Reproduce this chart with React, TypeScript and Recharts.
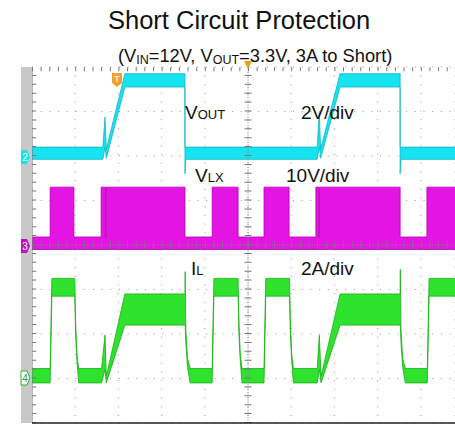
import {
  ComposedChart,
  Area,
  XAxis,
  YAxis,
  CartesianGrid,
  ReferenceLine,
} from "recharts";

// each row: [time (div), low edge, high edge] in volts or amps
const voutTrace: [number, number, number][] = [
  [0, -0.15, 0.4],
  [1.64, -0.15, 0.4],
  [1.69, 0.4, 1.75],
  [1.72, -0.1, 0.3],
  [2.15, 3.1, 3.7],
  [3.54, 3.1, 3.7],
  [3.54, -0.8, 0.4],
  [3.56, -0.15, 0.4],
  [6.6, -0.15, 0.4],
  [6.65, 0.4, 1.95],
  [6.68, -0.1, 0.3],
  [7.13, 3.1, 3.7],
  [8.52, 3.1, 3.7],
  [8.52, -0.8, 0.4],
  [8.54, -0.15, 0.4],
  [9.79, -0.15, 0.4],
];

const vlxTrace: [number, number, number][] = [
  [0, -1, 1.8],
  [0.42, -1, 1.8],
  [0.42, -1, 13],
  [0.97, -1, 13],
  [0.97, -1, 1.8],
  [1.6, -1, 1.8],
  [1.6, -1, 13],
  [1.7, -1, 13],
  [1.7, -1, 1.8],
  [1.715, -1, 1.8],
  [1.715, -1, 13],
  [3.54, -1, 13],
  [3.54, -1, 1.8],
  [4.17, -1, 1.8],
  [4.17, -1, 13],
  [4.77, -1, 13],
  [4.77, -1, 1.8],
  [5.37, -1, 1.8],
  [5.37, -1, 13],
  [5.95, -1, 13],
  [5.95, -1, 1.8],
  [6.57, -1, 1.8],
  [6.57, -1, 13],
  [6.64, -1, 13],
  [6.64, -1, 1.8],
  [6.655, -1, 1.8],
  [6.655, -1, 13],
  [8.52, -1, 13],
  [8.52, -1, 1.8],
  [9.14, -1, 1.8],
  [9.14, -1, 13],
  [9.79, -1, 13],
];

const ilTrace: [number, number, number][] = [
  [0, -0.2, 0.45],
  [0.42, -0.2, 0.45],
  [0.46, 3.7, 4.5],
  [0.99, 3.7, 4.5],
  [1.01, 2.0, 2.5],
  [1.04, 0.8, 1.1],
  [1.08, -0.2, 0.45],
  [1.61, -0.2, 0.45],
  [1.69, 0.4, 1.95],
  [1.72, -0.2, 0.1],
  [2.15, 2.4, 3.8],
  [3.54, 2.4, 3.8],
  [3.545, 2.4, 4.8],
  [3.56, 1.6, 2.2],
  [3.6, 0.5, 0.9],
  [3.66, -0.2, 0.45],
  [4.17, -0.2, 0.45],
  [4.21, 3.7, 4.5],
  [4.77, 3.7, 4.5],
  [4.79, 2.0, 2.5],
  [4.82, 0.8, 1.1],
  [4.86, -0.2, 0.45],
  [5.37, -0.2, 0.45],
  [5.41, 3.7, 4.5],
  [5.96, 3.7, 4.5],
  [5.98, 2.0, 2.5],
  [6.01, 0.8, 1.1],
  [6.05, -0.2, 0.45],
  [6.6, -0.2, 0.45],
  [6.65, 0.4, 1.95],
  [6.69, -0.2, 0.1],
  [7.13, 2.4, 3.8],
  [8.52, 2.4, 3.8],
  [8.525, 2.4, 4.9],
  [8.54, 1.6, 2.2],
  [8.58, 0.5, 0.9],
  [8.64, -0.2, 0.45],
  [9.15, -0.2, 0.45],
  [9.19, 3.7, 4.5],
  [9.79, 3.7, 4.5],
];

const timeDivs = [0, 1, 2, 3, 4, 5, 6, 7, 8, 9];
const levelDivs = [0, 1, 2, 3, 4, 5, 6, 7, 8];

// scope settings: units per division and where each channel's zero sits
const VOUT_PER_DIV = 2;
const VOUT_ZERO = 6;
const VLX_PER_DIV = 10;
const VLX_ZERO = 4;
const IL_PER_DIV = 2;
const IL_ZERO = 1;

const toBand = (trace: [number, number, number][], perDiv: number, zero: number) =>
  trace.map(([t, lo, hi]) => ({ t, band: [zero + lo / perDiv, zero + hi / perDiv] }));

const FONT = "'Liberation Sans', Arial, sans-serif";

export default function App() {
  const vout = toBand(voutTrace, VOUT_PER_DIV, VOUT_ZERO);
  const vlx = toBand(vlxTrace, VLX_PER_DIV, VLX_ZERO);
  const il = toBand(ilTrace, IL_PER_DIV, IL_ZERO);

  return (
    <div
      style={{
        position: "absolute",
        left: 0,
        top: 0,
        width: 455,
        height: 424,
        background: "#fff",
        overflow: "hidden",
        fontFamily: FONT,
      }}
    >
      <ComposedChart
        width={455}
        height={424}
        margin={{ top: 67, right: 0, bottom: 1, left: 32 }}
      >
        <XAxis
          type="number"
          dataKey="t"
          domain={[0, 9.79]}
          ticks={timeDivs}
          allowDataOverflow
          hide
        />
        <YAxis type="number" domain={[0, 8]} ticks={levelDivs} allowDataOverflow hide />
        <CartesianGrid stroke="#9a9a9a" strokeDasharray="1 7.7" />

        <Area
          data={vout}
          dataKey="band"
          type="linear"
          fill="#16e3f0"
          fillOpacity={1}
          stroke="#0cb6c8"
          strokeWidth={0.8}
          dot={false}
          activeDot={false}
          isAnimationActive={false}
        />
        <Area
          data={vlx}
          dataKey="band"
          type="linear"
          fill="#e414e4"
          fillOpacity={1}
          stroke="#b000b0"
          strokeWidth={0.8}
          dot={false}
          activeDot={false}
          isAnimationActive={false}
        />
        <Area
          data={il}
          dataKey="band"
          type="linear"
          fill="#2ee22e"
          fillOpacity={1}
          stroke="#18b018"
          strokeWidth={0.8}
          dot={false}
          activeDot={false}
          isAnimationActive={false}
        />

        {/* centre axes with minor ticks */}
        <ReferenceLine x={5} stroke="#777" strokeWidth={7} strokeDasharray="1 7.9" />
        <ReferenceLine x={5} stroke="#888" strokeDasharray="1 1.5" />
        <ReferenceLine y={4} stroke="#777" strokeWidth={7} strokeDasharray="1 7.64" />
        <ReferenceLine y={4} stroke="#888" strokeDasharray="1 1.5" />
        {/* border ticks */}
        <ReferenceLine x={0.05} stroke="#777" strokeWidth={4} strokeDasharray="1 7.9" />
        <ReferenceLine y={7.95} stroke="#777" strokeWidth={4} strokeDasharray="1 7.64" />
        <ReferenceLine x={0} stroke="#777" />
        <ReferenceLine y={0} stroke="#222" strokeWidth={1.5} />
      </ComposedChart>

      <svg
        width={455}
        height={424}
        style={{ position: "absolute", left: 0, top: 0, pointerEvents: "none" }}
        fontFamily={FONT}
      >
        <text x={108} y={29} fontSize={25.5} fill="#111">
          Short Circuit Protection
        </text>
        <text x={118} y={62} fontSize={18.3} fill="#111">
          (V<tspan fontSize={12.5} dy={2}>IN</tspan>
          <tspan dy={-2}>=12V, V</tspan>
          <tspan fontSize={12.5} dy={2}>OUT</tspan>
          <tspan dy={-2}>=3.3V, 3A to Short)</tspan>
        </text>

        {/* channel strip and markers */}
        <rect x={21} y={67} width={11} height={356} fill="#c8c8c8" />
        <path d="M21,150 H27 L30,157 L27,164 H21 Z" fill="#16e3f0" />
        <text x={25} y={161} fontSize={10} fill="#fff" textAnchor="middle">2</text>
        <path d="M21,239 H27 L30,246 L27,253 H21 Z" fill="#c010c0" />
        <text x={25} y={250} fontSize={10} fill="#fff" textAnchor="middle">3</text>
        <path d="M21,371 H27 L30,378 L27,385 H21 Z" fill="#fff" stroke="#2ab02a" />
        <text x={25} y={382} fontSize={10} fill="#2a9a2a" textAnchor="middle">4</text>

        {/* trigger markers */}
        <path d="M244,61 H252 L248,69 Z" fill="#e6a412" />
        <path d="M112,73 H122 V83 L117,87 L112,83 Z" fill="#f0a22a" />
        <text x={117} y={82} fontSize={9} fill="#fff" textAnchor="middle">T</text>

        <g fontSize={19} fill="#111">
          <text x={185} y={119}>
            V<tspan fontSize={13}>OUT</tspan>
          </text>
          <text x={301} y={119}>2V/div</text>
          <text x={195} y={182}>
            V<tspan fontSize={13}>LX</tspan>
          </text>
          <text x={286} y={182}>10V/div</text>
          <text x={191} y={275}>
            I<tspan fontSize={13}>L</tspan>
          </text>
          <text x={301} y={275}>2A/div</text>
        </g>
      </svg>
    </div>
  );
}
